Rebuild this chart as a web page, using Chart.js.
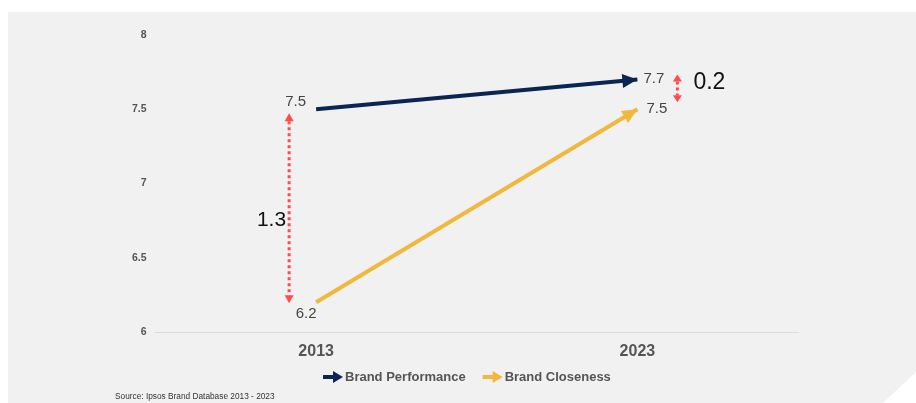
<!DOCTYPE html>
<html>
<head>
<meta charset="utf-8">
<script src="https://cdn.jsdelivr.net/npm/chart.js@4"></script>
<style>
html,body{margin:0;padding:0;background:#fff;width:916px;height:403px;overflow:hidden;}
#panel{position:absolute;left:8px;top:12px;width:908px;height:391px;background:#f1f1f1;
  clip-path:polygon(0 0,100% 0,100% 360px,875px 100%,0 100%);}
#wrap{position:absolute;left:0;top:0;width:916px;height:403px;}
#src{position:absolute;left:115px;top:391px;font:8.3px "Liberation Sans",Arial,sans-serif;color:#333;white-space:nowrap;}
</style>
</head>
<body>
<div id="panel"></div>
<div id="wrap"><canvas id="c" width="916" height="403"></canvas></div>
<div id="src"></div>
<script>
const categories = ['2013', '2023'];
const brandPerformance = [7.5, 7.7];
const brandCloseness = [6.2, 7.5];
const yTicks = [6, 6.5, 7, 7.5, 8];
const seriesNames = ['Brand Performance', 'Brand Closeness'];
const gapLabels = ['1.3', '0.2'];
const sourceText = 'Source: Ipsos Brand Database 2013 - 2023';

document.getElementById('src').textContent = sourceText;

const NAVY = '#0c2452';
const GOLD = '#f0b83c';
const RED = '#ff4b4b';
const FONT = '"Liberation Sans", Arial, sans-serif';

function arrowHead(ctx, x1, y1, x2, y2, len, half, color) {
  const a = Math.atan2(y2 - y1, x2 - x1);
  ctx.save();
  ctx.fillStyle = color;
  ctx.beginPath();
  ctx.moveTo(x2, y2);
  ctx.lineTo(x2 - len * Math.cos(a) + half * Math.sin(a), y2 - len * Math.sin(a) - half * Math.cos(a));
  ctx.lineTo(x2 - len * Math.cos(a) - half * Math.sin(a), y2 - len * Math.sin(a) + half * Math.cos(a));
  ctx.closePath();
  ctx.fill();
  ctx.restore();
}

const decor = {
  id: 'decor',
  afterDatasetsDraw(chart) {
    const ctx = chart.ctx;
    const xs = chart.scales.x, ys = chart.scales.y;
    // arrowheads at line ends
    chart.data.datasets.forEach((ds, i) => {
      const meta = chart.getDatasetMeta(i);
      const p0 = meta.data[meta.data.length - 2], p1 = meta.data[meta.data.length - 1];
      arrowHead(ctx, p0.x, p0.y, p1.x, p1.y, 15, 7, ds.borderColor);
    });
    // value labels
    ctx.save();
    ctx.font = '15px ' + FONT;
    ctx.fillStyle = '#444';
    ctx.textBaseline = 'middle';
    const x0 = xs.getPixelForValue(0), x1 = xs.getPixelForValue(1);
    ctx.textAlign = 'right';
    ctx.fillText(String(brandPerformance[0].toFixed(1)), x0 - 10, ys.getPixelForValue(brandPerformance[0]) - 7);
    ctx.textAlign = 'center';
    ctx.fillText(String(brandCloseness[0].toFixed(1)), x0 - 10, ys.getPixelForValue(brandCloseness[0]) + 12);
    ctx.textAlign = 'left';
    ctx.fillText(String(brandPerformance[1].toFixed(1)), x1 + 6, ys.getPixelForValue(brandPerformance[1]) - 1);
    ctx.fillText(String(brandCloseness[1].toFixed(1)), x1 + 9, ys.getPixelForValue(brandCloseness[1]));
    ctx.restore();

    // gap arrows
    const gaps = [
      {i: 0, dx: -27, topPad: 4, botPad: 1, head: 8, lab: gapLabels[0], lx: -3, ly: 12, align: 'right', size: 21},
      {i: 1, dx: 40, topPad: -5, botPad: -7, head: 7, lab: gapLabels[1], lx: 16, ly: -6, align: 'left', size: 23}
    ];
    gaps.forEach(g => {
      const x = xs.getPixelForValue(g.i) + g.dx;
      const yt = ys.getPixelForValue(brandPerformance[g.i]) + g.topPad;
      const yb = ys.getPixelForValue(brandCloseness[g.i]) + g.botPad;
      ctx.save();
      ctx.strokeStyle = RED;
      ctx.lineWidth = 3;
      ctx.setLineDash([3, 3]);
      ctx.beginPath();
      ctx.moveTo(x, yt + g.head);
      ctx.lineTo(x, yb - g.head);
      ctx.stroke();
      ctx.restore();
      arrowHead(ctx, x, yt + 10, x, yt, g.head, 4.5, RED);
      arrowHead(ctx, x, yb - 10, x, yb, g.head, 4.5, RED);
      ctx.save();
      ctx.font = g.size + 'px ' + FONT;
      ctx.fillStyle = '#111';
      ctx.textAlign = g.align;
      ctx.textBaseline = 'middle';
      ctx.fillText(g.lab, x + g.lx, (yt + yb) / 2 + g.ly);
      ctx.restore();
    });

    // legend
    ctx.save();
    ctx.font = 'bold 13px ' + FONT;
    ctx.textBaseline = 'middle';
    ctx.textAlign = 'left';
    const ly = 377;
    let lx = 323;
    chart.data.datasets.forEach((ds, i) => {
      ctx.strokeStyle = ds.borderColor;
      ctx.lineWidth = 4;
      ctx.beginPath();
      ctx.moveTo(lx, ly);
      ctx.lineTo(lx + 12, ly);
      ctx.stroke();
      arrowHead(ctx, lx, ly, lx + 20, ly, 10, 6, ds.borderColor);
      ctx.fillStyle = '#555';
      ctx.fillText(ds.label, lx + 22, ly);
      lx += 22 + ctx.measureText(ds.label).width + 17;
    });
    ctx.restore();
  }
};

new Chart(document.getElementById('c'), {
  type: 'line',
  data: {
    labels: categories,
    datasets: [
      {label: seriesNames[0], data: brandPerformance, borderColor: NAVY, backgroundColor: NAVY, borderWidth: 4, pointRadius: 0, tension: 0, borderCapStyle: 'butt'},
      {label: seriesNames[1], data: brandCloseness, borderColor: GOLD, backgroundColor: GOLD, borderWidth: 4, pointRadius: 0, tension: 0, borderCapStyle: 'butt'}
    ]
  },
  options: {
    responsive: false,
    animation: false,
    devicePixelRatio: 1,
    layout: {padding: {top: 35, left: 0, right: 118, bottom: 0}},
    plugins: {legend: {display: false}, tooltip: {enabled: false}},
    scales: {
      x: {
        type: 'category',
        offset: true,
        grid: {display: false, drawTicks: false},
        border: {display: true, color: '#dcdcdc', width: 1},
        ticks: {padding: 10, color: '#555', font: {family: FONT, size: 16, weight: 'bold'}},
        afterFit(s) { s.height = 71; }
      },
      y: {
        min: 6, max: 8,
        grid: {display: false, drawTicks: false},
        border: {display: false},
        afterBuildTicks(s) { s.ticks = yTicks.map(v => ({value: v})); },
        ticks: {padding: 9, color: '#555', font: {family: FONT, size: 10.5, weight: 'bold'}, callback: v => String(v)},
        afterFit(s) { s.width = 155.5; }
      }
    }
  },
  plugins: [decor]
});
</script>
</body>
</html>
